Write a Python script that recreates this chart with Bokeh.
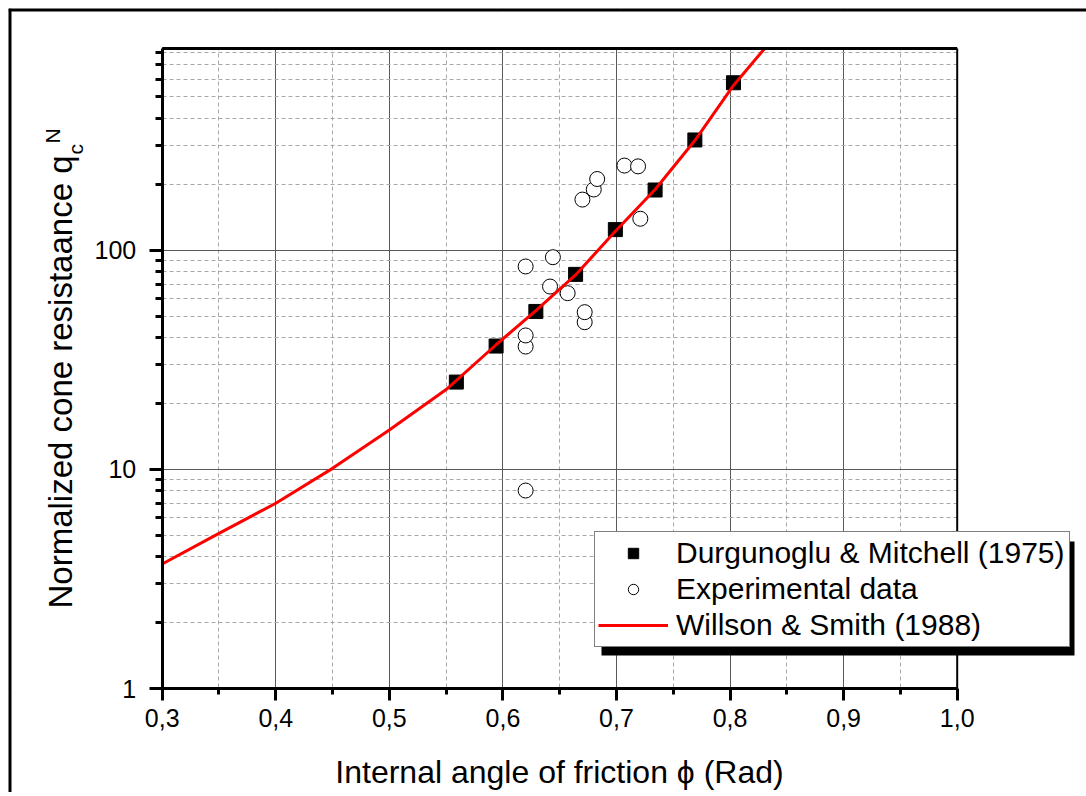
import math
from bokeh.plotting import figure
from bokeh.models import (FixedTicker, CustomJSTickFormatter, Legend, LegendItem,
                          Label, Range1d)
from bokeh.embed import file_html
from bokeh.resources import INLINE

# ---------------- data ----------------
phi_dm = [0.559, 0.594, 0.629, 0.664, 0.699, 0.734, 0.769, 0.803]
qc_dm = [25, 36.5, 52.5, 77.5, 124, 188, 318, 580]

phi_exp = [0.620, 0.620, 0.620, 0.620, 0.6415, 0.644, 0.657, 0.670,
           0.672, 0.672, 0.680, 0.683, 0.707, 0.719, 0.721]
qc_exp = [8.0, 36.3, 40.8, 84.2, 68.2, 92.8, 63.6, 170,
          46.9, 52.1, 189, 211, 243, 241, 139]

phi_ws = [0.30, 0.35, 0.40, 0.45, 0.50, 0.55, 0.594, 0.629, 0.664,
          0.699, 0.734, 0.769, 0.803, 0.829, 0.84]
qc_ws = [3.7, 5.1, 7.0, 10.1, 15.1, 23.1, 37, 53, 77,
         122, 189, 316, 564, 814, 960]

x_major = [0.3, 0.4, 0.5, 0.6, 0.7, 0.8, 0.9, 1.0]
x_minor = [0.35, 0.45, 0.55, 0.65, 0.75, 0.85, 0.95]
y_major = [1, 10, 100]
y_minor = [2, 3, 4, 5, 6, 7, 8, 9, 20, 30, 40, 50, 60, 70, 80, 90,
           200, 300, 400, 500, 600, 700, 800]

labels = ["Durgunoglu & Mitchell (1975)", "Experimental data", "Willson & Smith (1988)"]
x_title = "Internal angle of friction \u03d5 (Rad)"
y_title = "Normalized cone resistaance q"

FONT = "Liberation Sans"

# ---------------- layout geometry (page pixels) ----------------
ORG = 8                       # canvas origin on the page
W, H = 1078, 784              # canvas size (ends at 1086 x 792)
PX0, PX1 = 161.7, 956.7       # page x of phi = 0.3 and 1.0
PY1, DEC = 688.0, 219.2       # page y of q = 1, pixels per decade
TOP = 48                      # page y of the axes' top edge
BL = 0.4                      # observed label baseline shift (em)


def x_of(px):
    return 0.3 + (px - PX0) * 0.7 / (PX1 - PX0)


def y_of(py):
    return 10 ** ((PY1 - py) / DEC)


X0, X1 = x_of(ORG), x_of(ORG + W)
Y0, YT = y_of(ORG + H), y_of(ORG)
Y1 = y_of(TOP)

p = figure(width=W, height=H, x_range=Range1d(X0, X1), y_range=Range1d(Y0, YT),
           y_axis_type="log", output_backend="svg", toolbar_location=None,
           min_border_left=0, min_border_top=0, min_border_right=0,
           min_border_bottom=0)
p.styles = {"margin-left": "%dpx" % ORG, "margin-top": "%dpx" % ORG}
p.background_fill_color = "white"
p.border_fill_color = "white"
p.outline_line_color = None

xt = FixedTicker(ticks=x_major, minor_ticks=x_minor)
yt = FixedTicker(ticks=y_major, minor_ticks=y_minor)

xa = p.xaxis[0]
xa.ticker = xt
xa.formatter = CustomJSTickFormatter(code="return tick.toFixed(1).replace('.', ',');")
xa.fixed_location = 1
xa.bounds = (0.3, 1.0)
ya = p.yaxis[0]
ya.ticker = yt
ya.formatter = CustomJSTickFormatter(code="return String(Math.round(tick));")
ya.fixed_location = 0.3
ya.bounds = (1, Y1)

for ax in (xa, ya):
    ax.axis_line_width = 3
    ax.axis_line_color = "black"
    ax.major_tick_line_width = 3
    ax.minor_tick_line_width = 3
    ax.major_tick_in = 0
    ax.minor_tick_in = 0
    ax.major_label_text_font = FONT
    ax.major_label_text_font_size = "25px"
    ax.major_label_text_color = "black"
xa.major_tick_out = 12
xa.minor_tick_out = 6
xa.major_label_standoff = 8
ya.major_tick_out = 13
ya.minor_tick_out = 7
ya.major_label_standoff = 13

p.xgrid.ticker = xt
p.ygrid.ticker = yt
for g in (p.xgrid, p.ygrid):
    g.grid_line_color = "#5a5a5a"
    g.grid_line_width = 1
    g.minor_grid_line_color = "#a8a8a8"
    g.minor_grid_line_width = 1
    g.minor_grid_line_dash = "4 3"

# white covers: keep grid lines inside the axes box only
p.quad(left=[X0, 1.0, X0], right=[0.3, X1, X1], bottom=[Y0, Y0, Y0], top=[YT, YT, 1],
       fill_color="white", line_color=None)
# legend drop shadow
p.quad(left=[x_of(601)], right=[x_of(1074)], top=[y_of(541)], bottom=[y_of(655)],
       fill_color="black", line_color=None)

r_dm = p.scatter(phi_dm, qc_dm, marker="square", size=14, fill_color="black",
                 line_color="black")
r_exp = p.scatter(phi_exp, qc_exp, marker="circle", size=15, fill_color="white",
                  line_color="black", line_width=1)
r_ws = p.line(phi_ws, qc_ws, line_color="#ff0000", line_width=3)

# white cover above the axes box (clips the curve at its top edge)
p.quad(left=[X0], right=[X1], bottom=[Y1], top=[YT], fill_color="white", line_color=None)
# axes box: top and right edges
p.segment(x0=[0.3], y0=[Y1], x1=[1.0], y1=[Y1], line_color="black", line_width=3)
p.segment(x0=[1.0], y0=[1], x1=[1.0], y1=[Y1], line_color="black", line_width=2)
# outer frame (left and top edges of the picture)
p.segment(x0=[X0, X0], y0=[Y0, YT], x1=[X0, X1], y1=[YT, YT], line_color="black",
          line_width=6)

legend = Legend(items=[LegendItem(label=labels[0], renderers=[r_dm]),
                       LegendItem(label=labels[1], renderers=[r_exp]),
                       LegendItem(label=labels[2], renderers=[r_ws])],
                location=(594 - ORG, ORG + H - 647), padding=3, spacing=0, margin=0,
                label_standoff=8, glyph_width=70, glyph_height=26,
                label_height=36, label_width=390,
                label_text_font=FONT, label_text_font_size="30px",
                label_text_color="black", background_fill_color="white",
                background_fill_alpha=1, border_line_color="black",
                border_line_width=1.5)
p.add_layout(legend, "center")

BASE = ORG + H


def add_label(px, py, text, size, angle=0.0, align="left"):
    # (px, py): wanted page position of the text baseline start
    sh = BL * size
    if angle:
        ax_, ay_ = px - sh, py
    else:
        ax_, ay_ = px, py - sh
    p.add_layout(Label(x=ax_ - ORG, y=BASE - ay_, x_units="screen", y_units="screen",
                       text=text, angle=angle, text_font=FONT,
                       text_font_size="%dpx" % size, text_align=align,
                       text_baseline="alphabetic", text_color="black"))


add_label(73, 608, y_title, 33, angle=math.pi / 2)
add_label(83, 154, "c", 21, angle=math.pi / 2)
add_label(60, 143, "N", 21, angle=math.pi / 2)
add_label(559, 784, x_title, 32, align="center")

open("out.html", "w").write(file_html(p, INLINE))
